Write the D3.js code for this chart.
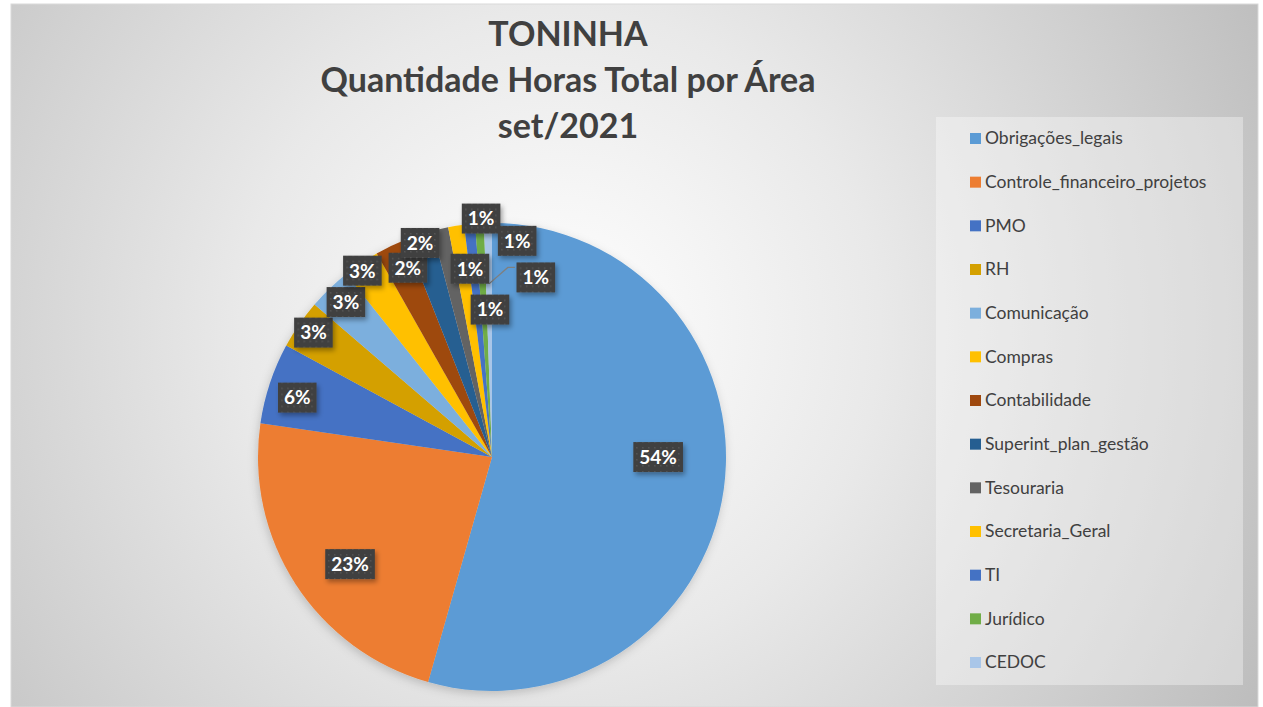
<!DOCTYPE html>
<html>
<head>
<meta charset="utf-8">
<script src="https://cdn.jsdelivr.net/npm/d3@7"></script>
<style>
  body { margin: 0; background: #fff; }
  svg { display: block; font-family: Lato, "Open Sans", sans-serif; }
</style>
</head>
<body>
<div id="chart"></div>
<script>
// data (share of hours, %)
const categories = ["Obrigações_legais", "Controle_financeiro_projetos", "PMO", "RH", "Comunicação",
    "Compras", "Contabilidade", "Superint_plan_gestão", "Tesouraria", "Secretaria_Geral",
    "TI", "Jurídico", "CEDOC"];
const hours = [54.4, 22.9, 5.6, 3.4, 3.0, 2.5, 2.2, 1.9, 1.1, 1.1, 0.75, 0.6, 0.55];
const colors = ["#5b9bd5", "#ed7d31", "#4472c4", "#d4a000", "#7cafdd", "#ffc000", "#9e480e",
    "#255e91", "#636363", "#ffc000", "#4472c4", "#70ad47", "#a9c6e8"];
const titleLines = ["TONINHA", "Quantidade Horas Total por Área", "set/2021"];

// label placement: distance from centre (in radii) and turn from slice middle (deg)
const labelRadius = [0.71, 0.76, 0.87, 0.93, 0.91, 0.97, 0.885, 0.965, 0.81, 1.02, 0.63, 0.93, 0.79];
const labelTurn = [-7.9, -4.1, -1.4, 0.3, 0.6, -0.8, 1.6, -0.4, 6.1, 6.2, 4.7, 9.7, 14.7];
const leaderAt = 12;

const width = 1263, height = 707;
const cx = 492, cy = 457, R = 234;

const svg = d3.select("#chart").append("svg")
    .attr("width", width)
    .attr("height", height);

const defs = svg.append("defs");

const grad = defs.append("radialGradient")
    .attr("id", "bg")
    .attr("gradientUnits", "userSpaceOnUse")
    .attr("cx", 560).attr("cy", 330).attr("r", 800);
[[0, "#ffffff"], [0.4, "#e9e9e9"], [0.78, "#cdcdcd"], [1, "#bcbcbc"]].forEach(s => {
    grad.append("stop").attr("offset", s[0]).attr("stop-color", s[1]);
});

const dots = defs.append("pattern")
    .attr("id", "dots")
    .attr("width", 6).attr("height", 6)
    .attr("patternUnits", "userSpaceOnUse");
dots.append("rect").attr("width", 6).attr("height", 6).attr("fill", "#404040");
dots.append("rect").attr("x", 2).attr("y", 2).attr("width", 1.5).attr("height", 1.5).attr("fill", "#565656");

const shadow = defs.append("filter").attr("id", "shadow")
    .attr("x", "-30%").attr("y", "-30%").attr("width", "160%").attr("height", "160%");
shadow.append("feDropShadow")
    .attr("dx", 2).attr("dy", 3).attr("stdDeviation", 2.5)
    .attr("flood-color", "#000").attr("flood-opacity", 0.35);

const pieShadow = defs.append("filter").attr("id", "pieShadow")
    .attr("x", "-20%").attr("y", "-20%").attr("width", "140%").attr("height", "140%");
pieShadow.append("feDropShadow")
    .attr("dx", -1).attr("dy", 3).attr("stdDeviation", 5)
    .attr("flood-color", "#000").attr("flood-opacity", 0.18);

// chart area
svg.append("rect")
    .attr("x", 11).attr("y", 4)
    .attr("width", 1247).attr("height", 703)
    .attr("fill", "url(#bg)")
    .attr("stroke", "#d9d9d9");

// title
svg.append("g")
    .selectAll("text")
    .data(titleLines)
    .join("text")
    .attr("x", 568)
    .attr("y", (d, i) => 46 + i * 46)
    .attr("text-anchor", "middle")
    .attr("font-size", 34)
    .attr("font-weight", "bold")
    .attr("fill", "#404040")
    .text(d => d);

// pie
const data = categories.map((c, i) => ({ name: c, value: hours[i], color: colors[i], i: i }));
const total = d3.sum(hours);

const pie = d3.pie()
    .sort(null)
    .value(d => d.value);

const arc = d3.arc().innerRadius(0).outerRadius(R);

const arcs = pie(data);

const g = svg.append("g").attr("transform", `translate(${cx},${cy})`);

g.append("g")
    .attr("filter", "url(#pieShadow)")
    .selectAll("path")
    .data(arcs)
    .join("path")
    .attr("d", arc)
    .attr("fill", d => d.data.color);

// labels
function labelPos(d) {
    let a = (d.startAngle + d.endAngle) / 2 + labelTurn[d.index] * Math.PI / 180,
        r = labelRadius[d.index] * R;
    return [Math.sin(a) * r, -Math.cos(a) * r];
}

const fmt = d => Math.round(d.value / total * 100) + "%";

// leader line
const lead = arcs[leaderAt];
const lp = labelPos(lead);
const midA = (lead.startAngle + lead.endAngle) / 2;
const anchor = [Math.sin(midA) * R * 0.74, -Math.cos(midA) * R * 0.74];
g.append("polyline")
    .attr("points", [[anchor[0], anchor[1]], [lp[0] - 28, lp[1] - 10], [lp[0] - 21, lp[1] - 10]].join(" "))
    .attr("fill", "none")
    .attr("stroke", "#7f7f7f")
    .attr("stroke-width", 1.3);

const label = g.append("g")
    .selectAll("g")
    .data(arcs)
    .join("g")
    .attr("transform", d => `translate(${labelPos(d)})`);

label.append("text")
    .attr("text-anchor", "middle")
    .attr("dy", "0.36em")
    .attr("font-size", 19)
    .attr("font-weight", "bold")
    .attr("fill", "#fff")
    .text(fmt);

label.each(function () {
    let t = d3.select(this).select("text"),
        w = t.node().getComputedTextLength() + 12,
        h = 30;
    d3.select(this).insert("rect", "text")
        .attr("x", -w / 2).attr("y", -h / 2)
        .attr("width", w).attr("height", h)
        .attr("fill", "url(#dots)")
        .attr("filter", "url(#shadow)");
});

// legend
const legend = svg.append("g");
legend.append("rect")
    .attr("x", 936).attr("y", 117)
    .attr("width", 307).attr("height", 568)
    .attr("fill", "#fff")
    .attr("fill-opacity", 0.35);

const legendY = d3.scalePoint()
    .domain(categories)
    .range([138, 662]);

const item = legend.selectAll("g")
    .data(data)
    .join("g")
    .attr("transform", d => `translate(970,${legendY(d.name)})`);

item.append("rect")
    .attr("x", 0).attr("y", -5)
    .attr("width", 11).attr("height", 11)
    .attr("fill", d => d.color);

item.append("text")
    .attr("x", 15)
    .attr("dy", "0.36em")
    .attr("font-size", 17.5)
    .attr("fill", "#404040")
    .text(d => d.name);
</script>
</body>
</html>
